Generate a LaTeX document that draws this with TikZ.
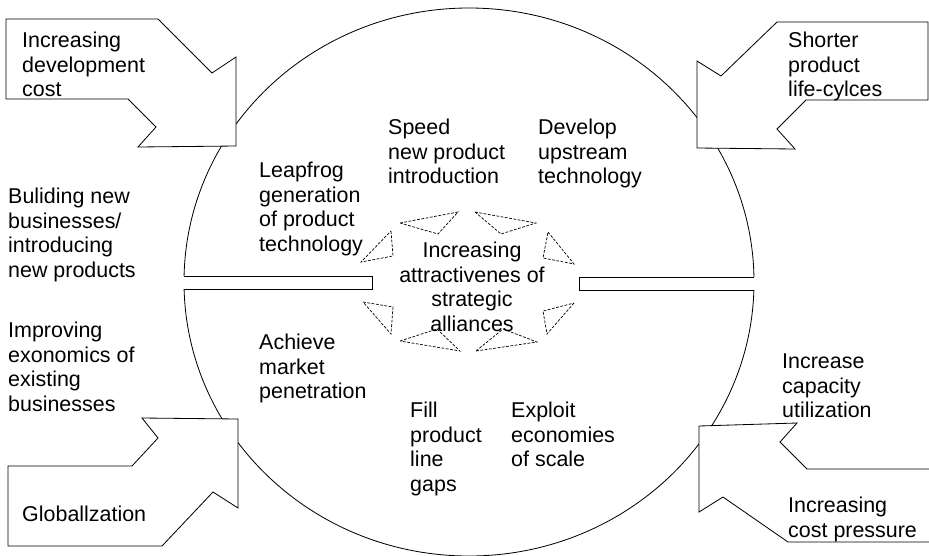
\documentclass[tikz,border=0pt]{standalone}
\usepackage{fontspec}
\setmainfont{Liberation Sans}

\begin{document}
\begin{tikzpicture}[x=0.03cm,y=-0.03cm,
	lbl/.style={anchor=north west,inner sep=0pt,align=left,font=\fontsize{18.3}{20.9}\selectfont},
	arw/.style={draw,fill=white,line width=0.7pt,line join=miter},
	tri/.style={draw,line width=0.6pt,dash pattern=on 2.4pt off 1.3pt}]
			%%%%% START %%%%%
			\useasboundingbox (0,0) rectangle (929,555);
			
			% the big circle and its two slots
			\draw[line width=0.7pt] (469,282) ellipse (285 and 274);
			\fill[white] (178,276) rectangle (372,289);
			\draw[line width=0.7pt] (184,276) -- (372,276) -- (372,289) -- (184,289);
			\fill[white] (579,277) rectangle (760,290);
			\draw[line width=0.7pt] (754,277) -- (579,277) -- (579,290) -- (754,290);
			
			% the four bent arrows
			\draw[arw] (6,19) -- (158,19) -- (212,73) -- (236,57) -- (236,146) -- (138,147) -- (156,127) -- (128,99) -- (6,99) -- cycle;
			\draw[arw] (777,22) -- (928,22) -- (928,100) -- (806,100) -- (777,129) -- (795,149) -- (697,148) -- (697,61) -- (721,76) -- cycle;
			\draw[arw] (142,418) -- (238,419) -- (238,508) -- (213,492) -- (162,546) -- (8,546) -- (8,466) -- (132,466) -- (158,438) -- cycle;
			\draw[arw] (699,426) -- (797,423) -- (780,442) -- (807,469) -- (935,469) -- (935,542) -- (788,542) -- (723,497) -- (699,512) -- cycle;
			
			% dashed triangles round the middle
			\foreach \ax/\ay/\bx/\by/\cx/\cy in {400/223/458/212/438/234, 475/212/536/223/501/234,
				548/232/574/264/543/258, 574/303/547/334/543/311, 476/351/503/329/537/342,
				400/341/437/329/460/351, 363/302/393/307/391/334, 391/231/393/256/361/262}
				\draw[tri] (\ax,\ay) -- (\bx,\by) -- (\cx,\cy) -- cycle;
			
			% labels
			\node[lbl] (devcost) at (22,32) {Increasing\\development\\cost};
			\node[lbl] (lifecyc) at (788,32) {Shorter\\product\\life-cylces};
			\node[lbl] (speed) at (388,119) {Speed\\new product\\introduction};
			\node[lbl] (upstream) at (538,119) {Develop\\upstream\\technology};
			\node[lbl] (leapfrog) at (259,162) {Leapfrog\\generation\\of product\\technology};
			\node[lbl,anchor=north,align=center] (alliances) at (472,242) {Increasing\\attractivenes of\\strategic\\alliances};
			\node[lbl] (newbiz) at (8,188) {Buliding new\\businesses/\\introducing\\new products};
			\node[lbl] (existing) at (8,322) {Improving\\exonomics of\\existing\\businesses};
			\node[lbl] (market) at (259,334) {Achieve\\market\\penetration};
			\node[lbl] (capacity) at (782,354) {Increase\\capacity\\utilization};
			\node[lbl] (gaps) at (410,402) {Fill\\product\\line\\gaps};
			\node[lbl] (scale) at (511,402) {Exploit\\economies\\of scale};
			\node[lbl] (global) at (22,506) {Globallzation};
			\node[lbl] (costpress) at (788,497) {Increasing\\cost pressure};
			%%%%% END %%%%%
\end{tikzpicture}
\end{document}
